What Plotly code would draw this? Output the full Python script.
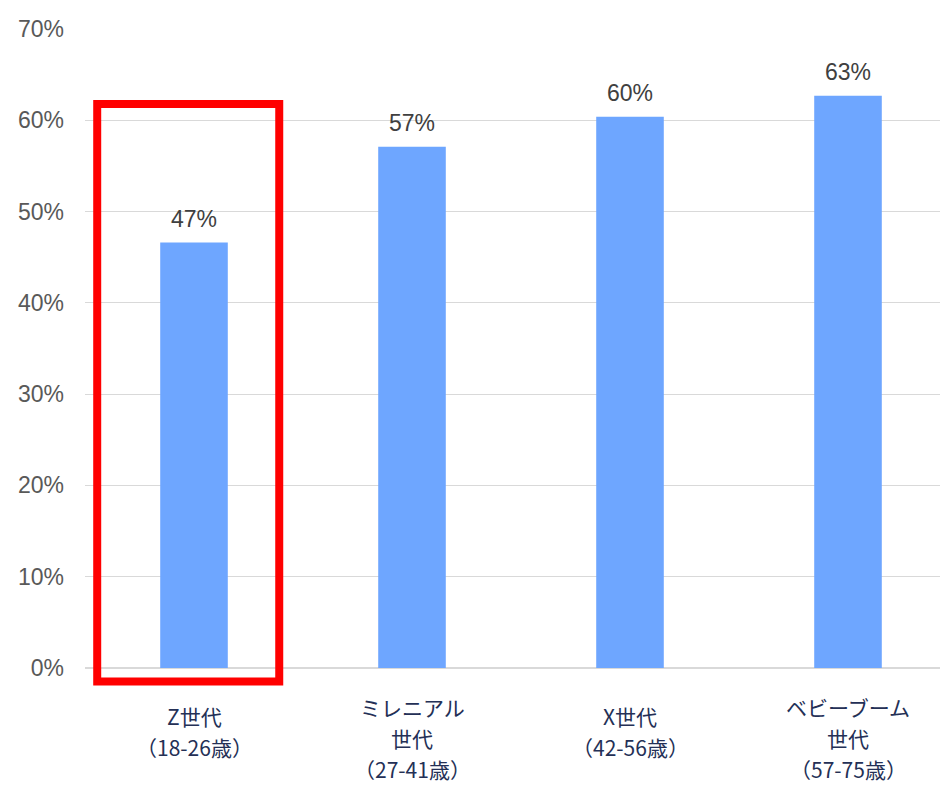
import plotly.graph_objects as go

# Share of respondents by generation
categories = ["Z世代", "ミレニアル世代", "X世代", "ベビーブーム世代"]
label_lines = [
    ["Z世代", "（18-26歳）"],
    ["ミレニアル", "世代", "（27-41歳）"],
    ["X世代", "（42-56歳）"],
    ["ベビーブーム", "世代", "（57-75歳）"],
]
values = [0.466, 0.571, 0.604, 0.627]
y_ticks = [0, 0.1, 0.2, 0.3, 0.4, 0.5, 0.6, 0.7]

BAR_COLOR = "#6EA6FF"
GRID_COLOR = "#D9D9D9"
W, H = 940, 787
M_L, M_R, M_T, M_B = 85, 0, 29, 119
PLOT_H = H - M_T - M_B
AXIS_PX = H - M_B  # pixel row of the x axis


def paper_y(px):
    """Convert a pixel row (from the top) to a paper y coordinate."""
    return (AXIS_PX - px) / PLOT_H


fig = go.Figure()
fig.add_trace(
    go.Bar(
        x=categories,
        y=values,
        marker=dict(color=BAR_COLOR, line=dict(width=0)),
        hoverinfo="skip",
    )
)

# Value labels above each bar
for cat, v in zip(categories, values):
    fig.add_annotation(
        x=cat, y=v, text=f"{round(v * 100):.0f}%",
        showarrow=False, yanchor="bottom", yshift=9,
        font=dict(family="Liberation Sans, Arial", size=23, color="#404040"),
    )

# Category labels, one annotation per line
LINE_STEP = 31
for cat, lines in zip(categories, label_lines):
    first = 716 if len(lines) == 2 else 707
    for i, line in enumerate(lines):
        fig.add_annotation(
            x=cat, xref="x", y=paper_y(first + i * LINE_STEP), yref="paper",
            text=line, showarrow=False, yanchor="middle", xanchor="center",
            borderpad=0,
            font=dict(family="Noto Sans CJK JP", size=21, color="#243056"),
        )

# Highlight frame around the first generation (extends below the axis)
fig.add_shape(
    type="rect", xref="x", yref="paper",
    x0=-0.444, x1=0.391, y0=paper_y(681.5), y1=paper_y(104),
    line=dict(color="#FF0000", width=8),
    fillcolor="rgba(0,0,0,0)", layer="above",
)

fig.update_layout(
    width=W, height=H,
    margin=dict(l=M_L, r=M_R, t=M_T, b=M_B),
    paper_bgcolor="white", plot_bgcolor="white",
    bargap=0.69, showlegend=False,
    xaxis=dict(
        range=[-0.5, 3.422],
        showticklabels=False, showgrid=False, showline=False, ticks="",
    ),
    yaxis=dict(
        range=[0, 0.7], tickvals=y_ticks, tickformat=".0%",
        tickfont=dict(family="Liberation Sans, Arial", size=23, color="#595959"),
        showgrid=True, gridcolor=GRID_COLOR, gridwidth=1.3,
        zeroline=True, zerolinecolor=GRID_COLOR, zerolinewidth=2,
        showline=False, ticks="", ticklabelstandoff=20,
    ),
)

fig.write_html("out.html")
